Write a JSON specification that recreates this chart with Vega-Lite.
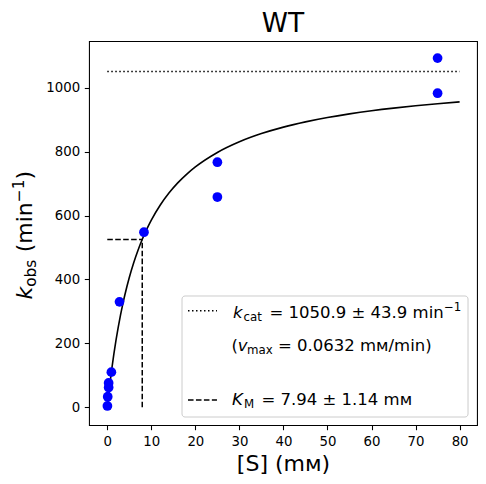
{
  "$schema": "https://vega.github.io/schema/vega-lite/v6.json",
  "width": 388,
  "height": 384,
  "autosize": {"type": "none"},
  "padding": {"left": 89, "top": 41, "right": 9, "bottom": 59},
  "background": "white",
  "config": {
    "font": "DejaVu Sans",
    "view": {"stroke": "black", "strokeWidth": 1.07},
    "axis": {
      "grid": false, "domain": false,
      "tickColor": "black", "tickSize": 4.7, "tickWidth": 1.07,
      "labelColor": "black", "labelFont": "DejaVu Sans", "labelFontSize": 13.3,
      "titleColor": "black", "titleFont": "DejaVu Sans", "titleFontWeight": "normal"
    },
    "text": {"font": "DejaVu Sans", "color": "black", "align": "left", "baseline": "alphabetic"}
  },
  "layer": [
    {
      "data": {"values": [
        {"S": 0, "k": 0}, {"S": 0.25, "k": 32.1}, {"S": 0.5, "k": 62.3}, {"S": 1, "k": 117.6},
        {"S": 1.5, "k": 167.0}, {"S": 2, "k": 211.5}, {"S": 2.5, "k": 251.7}, {"S": 3, "k": 288.2},
        {"S": 3.5, "k": 321.5}, {"S": 4, "k": 352.1}, {"S": 5, "k": 406.1}, {"S": 6, "k": 452.3},
        {"S": 7, "k": 492.4}, {"S": 8, "k": 527.4}, {"S": 9, "k": 558.3}, {"S": 10, "k": 585.8},
        {"S": 12, "k": 632.4}, {"S": 14, "k": 670.6}, {"S": 16, "k": 702.4}, {"S": 18, "k": 729.2},
        {"S": 20, "k": 752.3}, {"S": 25, "k": 797.6}, {"S": 30, "k": 831.0}, {"S": 35, "k": 856.6},
        {"S": 40, "k": 876.9}, {"S": 45, "k": 893.3}, {"S": 50, "k": 906.9}, {"S": 55, "k": 918.3},
        {"S": 60, "k": 928.1}, {"S": 65, "k": 936.5}, {"S": 70, "k": 943.8}, {"S": 75, "k": 950.3},
        {"S": 80, "k": 956.0}
      ]},
      "mark": {"type": "line", "color": "black", "strokeWidth": 1.6, "interpolate": "monotone"},
      "encoding": {
        "x": {"field": "S", "type": "quantitative",
              "scale": {"domain": [-4.15, 83.95], "nice": false, "zero": false},
              "axis": {"values": [0, 10, 20, 30, 40, 50, 60, 70, 80], "format": "d", "labelPadding": 4.5,
                       "title": "[S] (mᴍ)", "titleFontSize": 22, "titleBaseline": "alphabetic", "titleY": 45.5}},
        "y": {"field": "k", "type": "quantitative",
              "scale": {"domain": [-55.5, 1146.5], "nice": false, "zero": false},
              "axis": {"values": [0, 200, 400, 600, 800, 1000], "format": "d", "labelPadding": 4.7, "title": null}}
      }
    },
    {
      "data": {"values": [{}]},
      "mark": {"type": "rule", "color": "black", "strokeWidth": 1.5, "strokeDash": [1.5, 2.5]},
      "encoding": {"x": {"datum": 0}, "x2": {"datum": 80}, "y": {"datum": 1050.9}}
    },
    {
      "data": {"values": [{}]},
      "mark": {"type": "rule", "color": "black", "strokeWidth": 1.5, "strokeDash": [5.55, 2.4]},
      "encoding": {"x": {"datum": 0}, "x2": {"datum": 7.94}, "y": {"datum": 525.45}}
    },
    {
      "data": {"values": [{}]},
      "mark": {"type": "rule", "color": "black", "strokeWidth": 1.5, "strokeDash": [5.55, 2.4]},
      "encoding": {"x": {"datum": 7.94}, "y": {"datum": 0}, "y2": {"datum": 525.45}}
    },
    {
      "data": {"values": [
        {"S": 75, "k": 1093}, {"S": 75, "k": 983}, {"S": 25, "k": 767}, {"S": 25, "k": 658},
        {"S": 8.33, "k": 548}, {"S": 2.78, "k": 330}, {"S": 0.93, "k": 110}, {"S": 0.31, "k": 76},
        {"S": 0.31, "k": 62}, {"S": 0.1, "k": 33}, {"S": 0.03, "k": 4}
      ]},
      "mark": {"type": "point", "filled": true, "color": "#0000ff", "opacity": 1, "size": 95},
      "encoding": {"x": {"field": "S", "type": "quantitative"}, "y": {"field": "k", "type": "quantitative"}}
    },
    {
      "data": {"values": [{}]},
      "mark": {"type": "rect", "fill": "white", "fillOpacity": 0.8, "stroke": "#cccccc", "strokeWidth": 1, "cornerRadius": 3},
      "encoding": {"x": {"datum": 16.97}, "x2": {"datum": 81.91}, "y": {"datum": 348.3}, "y2": {"datum": -30.5}}
    },
    {
      "data": {"values": [{}]},
      "mark": {"type": "rule", "color": "black", "strokeWidth": 1.5, "strokeDash": [1.5, 2.5]},
      "encoding": {"x": {"datum": 18.33}, "x2": {"datum": 24.91}, "y": {"datum": 302.3}}
    },
    {
      "data": {"values": [{}]},
      "mark": {"type": "rule", "color": "black", "strokeWidth": 1.5, "strokeDash": [5.55, 2.4]},
      "encoding": {"x": {"datum": 18.33}, "x2": {"datum": 24.91}, "y": {"datum": 22.75}}
    },
    {
      "data": {"values": [{}]},
      "encoding": {"x": {"datum": 28.2}, "y": {"datum": 278}},
      "layer": [
        {"mark": {"type": "text", "text": "k", "fontStyle": "italic", "fontSize": 16.5, "dx": 1.5}},
        {"mark": {"type": "text", "text": "cat", "fontSize": 11.8, "dx": 12, "dy": 3}},
        {"mark": {"type": "text", "text": "= 1050.9 ± 43.9 min", "fontSize": 16.5, "dx": 38}},
        {"mark": {"type": "text", "text": "−1", "fontSize": 11.8, "dx": 212.5, "dy": -7}}
      ]
    },
    {
      "data": {"values": [{}]},
      "encoding": {"x": {"datum": 28.2}, "y": {"datum": 176}},
      "layer": [
        {"mark": {"type": "text", "text": "(", "fontSize": 16.5, "dx": 0}},
        {"mark": {"type": "text", "text": "v", "fontStyle": "italic", "fontSize": 16.5, "dx": 6.3}},
        {"mark": {"type": "text", "text": "max", "fontSize": 11.8, "dx": 15.5, "dy": 3}},
        {"mark": {"type": "text", "text": "= 0.0632 mᴍ/min)", "fontSize": 16.5, "dx": 46.5}}
      ]
    },
    {
      "data": {"values": [{}]},
      "encoding": {"x": {"datum": 28.2}, "y": {"datum": 7}},
      "layer": [
        {"mark": {"type": "text", "text": "K", "fontStyle": "italic", "fontSize": 16.5, "dx": 0.5}},
        {"mark": {"type": "text", "text": "M", "fontSize": 11.8, "dx": 12.5, "dy": 3}},
        {"mark": {"type": "text", "text": "= 7.94 ± 1.14 mᴍ", "fontSize": 16.5, "dx": 30}}
      ]
    },
    {
      "data": {"values": [{}]},
      "encoding": {"x": {"datum": -17.2}, "y": {"datum": 337.3}},
      "layer": [
        {"mark": {"type": "text", "text": "k", "fontStyle": "italic", "fontSize": 22, "angle": 270, "dx": 0}},
        {"mark": {"type": "text", "text": "obs", "fontSize": 15.4, "angle": 270, "dx": 12.7, "dy": 4}},
        {"mark": {"type": "text", "text": "(min", "fontSize": 22, "angle": 270, "dx": 47.2}},
        {"mark": {"type": "text", "text": "−1", "fontSize": 15.4, "angle": 270, "dx": 97.3, "dy": -8}},
        {"mark": {"type": "text", "text": ")", "fontSize": 22, "angle": 270, "dx": 120}}
      ]
    },
    {
      "data": {"values": [{}]},
      "mark": {"type": "text", "text": "WT", "fontSize": 26.5, "align": "center"},
      "encoding": {"x": {"datum": 39.9}, "y": {"datum": 1174.7}}
    }
  ]
}
